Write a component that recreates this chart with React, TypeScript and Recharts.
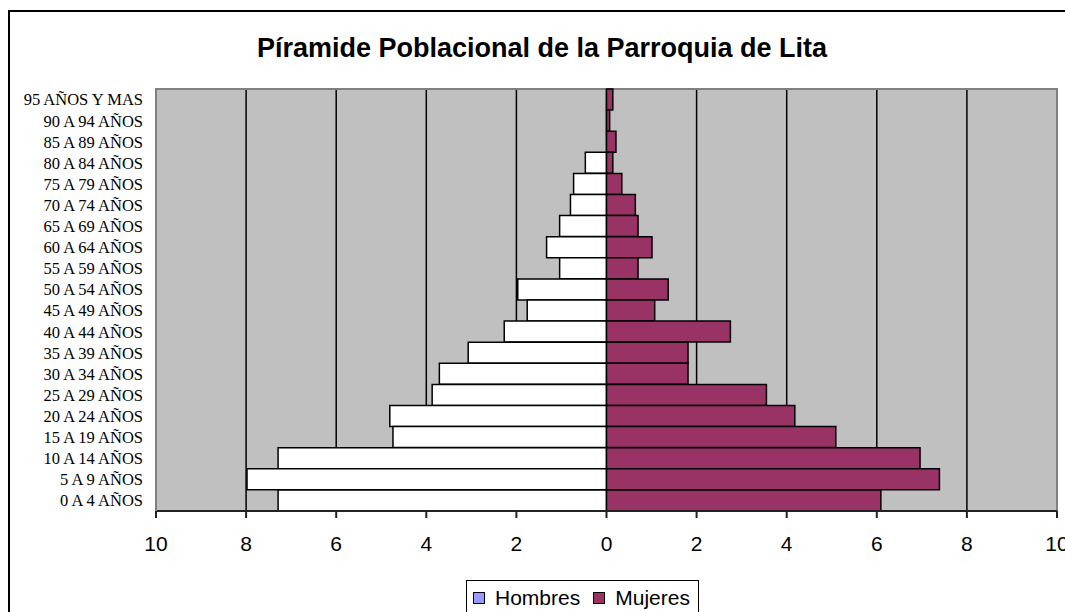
import React from 'react';
import {
  BarChart,
  Bar,
  XAxis,
  YAxis,
  CartesianGrid,
  Legend,
  ReferenceArea,
} from 'recharts';

const TITLE = 'Píramide Poblacional de la Parroquia de Lita';

const ageGroups = [
  '95 AÑOS Y MAS',
  '90 A 94 AÑOS',
  '85 A 89 AÑOS',
  '80 A 84 AÑOS',
  '75 A 79 AÑOS',
  '70 A 74 AÑOS',
  '65 A 69 AÑOS',
  '60 A 64 AÑOS',
  '55 A 59 AÑOS',
  '50 A 54 AÑOS',
  '45 A 49 AÑOS',
  '40 A 44 AÑOS',
  '35 A 39 AÑOS',
  '30 A 34 AÑOS',
  '25 A 29 AÑOS',
  '20 A 24 AÑOS',
  '15 A 19 AÑOS',
  '10 A 14 AÑOS',
  '5 A 9 AÑOS',
  '0 A 4 AÑOS',
];

const hombres = [0, 0, 0, 0.47, 0.73, 0.8, 1.04, 1.33, 1.04, 1.97, 1.76, 2.27, 3.07, 3.71, 3.87, 4.81, 4.74, 7.29, 7.98, 7.29];
const mujeres = [0.14, 0.07, 0.21, 0.14, 0.34, 0.64, 0.7, 1.01, 0.7, 1.37, 1.07, 2.75, 1.81, 1.81, 3.55, 4.18, 5.09, 6.96, 7.39, 6.09];

const xTicks = [-10, -8, -6, -4, -2, 0, 2, 4, 6, 8, 10];
const gridValues = [-8, -6, -4, -2, 0, 2, 4, 6, 8];

const seriesNames = ['Hombres', 'Mujeres'];
const legendColors = ['#9999FF', '#993366'];
const barColors = ['#FFFFFF', '#993366'];

const data = ageGroups.map((age, i) => ({
  age,
  Hombres: -hombres[i],
  Mujeres: mujeres[i],
}));

const renderLegend = () => (
  <div
    style={{
      border: '1px solid #000',
      background: '#fff',
      height: 40,
      width: 233,
      boxSizing: 'border-box',
      paddingLeft: 6,
      paddingTop: 6,
      display: 'flex',
      alignItems: 'flex-start',
      fontFamily: '"Liberation Sans", Arial, sans-serif',
      fontSize: 21,
      lineHeight: '21px',
    }}
  >
    <div style={{ display: 'flex', alignItems: 'center', height: 21 }}>
      {seriesNames.map((name, i) => (
        <div key={name} style={{ display: 'flex', alignItems: 'center', marginLeft: i === 0 ? 0 : 13 }}>
          <span
            style={{
              display: 'inline-block',
              width: 12,
              height: 12,
              boxSizing: 'border-box',
              border: '1px solid #000',
              background: legendColors[i],
              marginRight: 10,
            }}
          />
          <span style={{ color: '#000' }}>{name}</span>
        </div>
      ))}
    </div>
  </div>
);

export default function App() {
  return (
    <div
      style={{
        position: 'absolute',
        left: 0,
        top: 0,
        width: 1065,
        height: 612,
        overflow: 'hidden',
        background: '#fff',
      }}
    >
      <div
        style={{
          position: 'absolute',
          left: 8,
          top: 10,
          width: 1120,
          height: 700,
          border: '2px solid #000',
          boxSizing: 'border-box',
        }}
      />
      <div
        style={{
          position: 'absolute',
          left: 0,
          top: 35,
          width: 1084,
          textAlign: 'center',
          fontFamily: '"Liberation Sans", Arial, sans-serif',
          fontWeight: 'bold',
          fontSize: 27,
          lineHeight: '27px',
          color: '#000',
        }}
      >
        {TITLE}
      </div>
      <div style={{ position: 'absolute', left: 0, top: 0 }}>
        <BarChart
          width={1065}
          height={612}
          data={data}
          layout="vertical"
          stackOffset="sign"
          barCategoryGap={0}
          margin={{ top: 89, right: 8, bottom: 41, left: 0 }}
        >
          <CartesianGrid
            horizontal={false}
            vertical={true}
            verticalValues={gridValues}
            stroke="#000"
            strokeWidth={1.5}
            fill="#C0C0C0"
            fillOpacity={1}
          />
          <ReferenceArea x1={-10} x2={10} fill="none" stroke="#808080" strokeWidth={2} ifOverflow="visible" />
          <XAxis
            type="number"
            domain={[-10, 10]}
            ticks={xTicks}
            interval={0}
            allowDataOverflow
            tickFormatter={(v: number) => String(Math.abs(v))}
            height={60}
            tickSize={7}
            tickMargin={18}
            axisLine={{ stroke: '#222', strokeWidth: 2 }}
            tickLine={{ stroke: '#222', strokeWidth: 2 }}
            tick={{ fill: '#000', fontSize: 21, fontFamily: '"Liberation Sans", Arial, sans-serif' }}
          />
          <YAxis
            type="category"
            dataKey="age"
            width={156}
            interval={0}
            tickLine={false}
            tickSize={0}
            tickMargin={13}
            axisLine={{ stroke: '#808080', strokeWidth: 2 }}
            tick={{ fill: '#000', fontSize: 16.5, fontFamily: '"Liberation Serif", "Times New Roman", serif' }}
          />
          <Legend
            verticalAlign="middle"
            layout="horizontal"
            content={renderLegend}
            wrapperStyle={{ left: 466, top: 580, width: 233, height: 40, bottom: 'auto', right: 'auto' }}
          />
          <Bar
            dataKey="Hombres"
            name={seriesNames[0]}
            stackId="a"
            fill={barColors[0]}
            stroke="#000"
            strokeWidth={1.5}
            isAnimationActive={false}
          />
          <Bar
            dataKey="Mujeres"
            name={seriesNames[1]}
            stackId="a"
            fill={barColors[1]}
            stroke="#000"
            strokeWidth={1.5}
            isAnimationActive={false}
          />
        </BarChart>
      </div>
    </div>
  );
}
